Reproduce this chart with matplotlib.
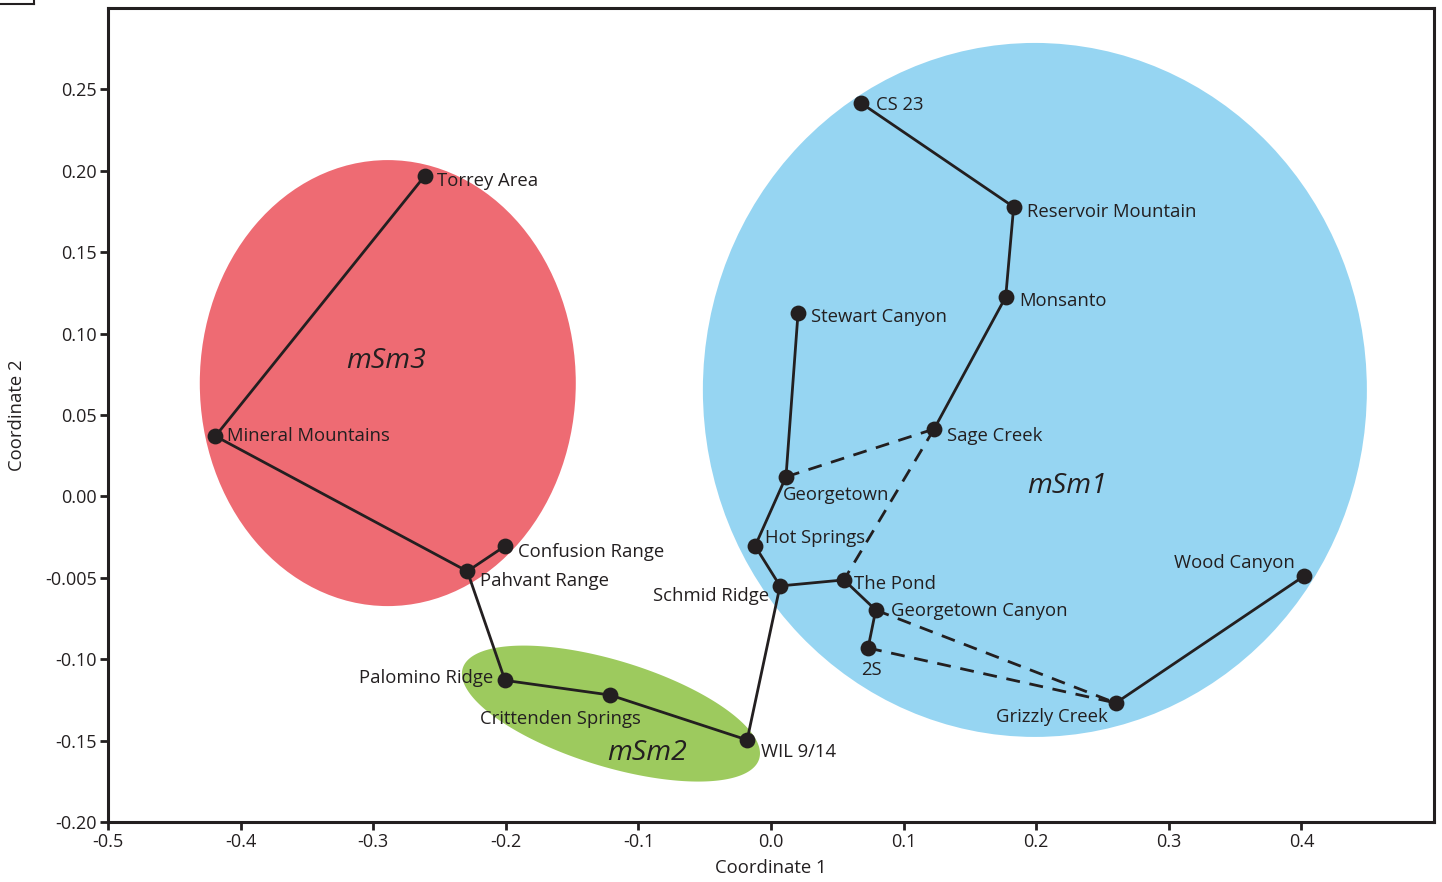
import numpy as np
import matplotlib
matplotlib.use("Agg")
import matplotlib.pyplot as plt
from matplotlib.patches import Ellipse
from matplotlib.lines import Line2D

plt.rcParams['font.family'] = ['Open Sans', 'DejaVu Sans']

# ---- data ----
sites = ["Torrey Area", "Mineral Mountains", "Pahvant Range", "Confusion Range",
         "Palomino Ridge", "Crittenden Springs", "WIL 9/14", "Schmid Ridge",
         "Hot Springs", "Georgetown", "Stewart Canyon", "Sage Creek", "Monsanto",
         "Reservoir Mountain", "CS 23", "The Pond", "Georgetown Canyon", "2S",
         "Grizzly Creek", "Wood Canyon"]
coord1 = [-0.261, -0.419, -0.229, -0.2006, -0.2006, -0.1214, -0.018, 0.0068,
          -0.012, 0.0113, 0.0204, 0.123, 0.177, 0.183, 0.0679, 0.055, 0.079,
          0.0732, 0.260, 0.402]
coord2 = [0.197, 0.037, -0.046, -0.0305, -0.113, -0.122, -0.1496, -0.055,
          -0.0305, 0.012, 0.1127, 0.0414, 0.1225, 0.1778, 0.2416, -0.0513,
          -0.0698, -0.0931, -0.1269, -0.0489]

solid_links = [("Torrey Area", "Mineral Mountains"), ("Mineral Mountains", "Pahvant Range"),
               ("Pahvant Range", "Confusion Range"), ("Pahvant Range", "Palomino Ridge"),
               ("Palomino Ridge", "Crittenden Springs"), ("Crittenden Springs", "WIL 9/14"),
               ("WIL 9/14", "Schmid Ridge"), ("Schmid Ridge", "Hot Springs"),
               ("Hot Springs", "Georgetown"), ("Georgetown", "Stewart Canyon"),
               ("Schmid Ridge", "The Pond"), ("The Pond", "Georgetown Canyon"),
               ("Georgetown Canyon", "2S"), ("Grizzly Creek", "Wood Canyon"),
               ("Sage Creek", "Monsanto"), ("Monsanto", "Reservoir Mountain"),
               ("Reservoir Mountain", "CS 23")]
dashed_links = [("Georgetown", "Sage Creek"), ("Sage Creek", "The Pond"),
                ("Georgetown Canyon", "Grizzly Creek"), ("2S", "Grizzly Creek")]

cluster_names = ["mSm3", "mSm1", "mSm2"]
cluster_centers_x = [-0.289, 0.199, -0.1207]
cluster_centers_y = [0.0696, 0.0654, -0.1334]

x_ticks = [-0.5, -0.4, -0.3, -0.2, -0.1, 0.0, 0.1, 0.2, 0.3, 0.4]
x_tick_labels = ["-0.5", "-0.4", "-0.3", "-0.2", "-0.1", "0.0", "0.1", "0.2", "0.3", "0.4"]
y_ticks = [-0.20, -0.15, -0.10, -0.05, 0.00, 0.05, 0.10, 0.15, 0.20, 0.25]
y_tick_labels = ["-0.20", "-0.15", "-0.10", "-0.005", "0.00", "0.05", "0.10", "0.15", "0.20", "0.25"]

# ---- styling / layout (label offsets in pixels) ----
label_style = {
    "Torrey Area": (12, -5, "left", "center"),
    "Mineral Mountains": (12, 0, "left", "center"),
    "Pahvant Range": (13, -10, "left", "center"),
    "Confusion Range": (13, -6, "left", "center"),
    "Palomino Ridge": (-12, 2, "right", "center"),
    "Crittenden Springs": (-130, -24, "left", "center"),
    "WIL 9/14": (14, -12, "left", "center"),
    "Schmid Ridge": (-11, -10, "right", "center"),
    "Hot Springs": (10, 8, "left", "center"),
    "Georgetown": (-3, -18, "left", "center"),
    "Stewart Canyon": (13, -4, "left", "center"),
    "Sage Creek": (13, -7, "left", "center"),
    "Monsanto": (14, -4, "left", "center"),
    "Reservoir Mountain": (13, -5, "left", "center"),
    "CS 23": (15, -2, "left", "center"),
    "The Pond": (10, -4, "left", "center"),
    "Georgetown Canyon": (15, -1, "left", "center"),
    "2S": (3, -22, "center", "center"),
    "Grizzly Creek": (-8, -14, "right", "center"),
    "Wood Canyon": (-9, 13, "right", "center"),
}

W, H = 1442, 882
fig = plt.figure(figsize=(W / 100, H / 100), dpi=100)
ax = fig.add_axes([108 / W, 1 - 822 / H, (1434 - 108) / W, (822 - 8) / H])
ax.set_xlim(-0.5, 0.5)
ax.set_ylim(-0.2, 0.30)

px_x = 1326.0  # pixels per data unit in x
px_y = 1628.0  # pixels per data unit in y

red = "#EE6B73"
blue = "#96D5F2"
green = "#9DCA5E"
ink = "#231F20"

# red cluster
ax.add_patch(Ellipse((cluster_centers_x[0], cluster_centers_y[0]), 376 / px_x, 446 / px_y,
                     facecolor=red, edgecolor="none", zorder=1))
# blue cluster
ax.add_patch(Ellipse((cluster_centers_x[1], cluster_centers_y[1]), 664 / px_x, 694 / px_y,
                     facecolor=blue, edgecolor="none", zorder=1))
# green cluster (rotated in screen space)
t = np.linspace(0, 2 * np.pi, 400)
a_px, b_px, th = 155.0, 53.0, np.deg2rad(-17)
dx = a_px * np.cos(t) * np.cos(th) - b_px * np.sin(t) * np.sin(th)
dy = a_px * np.cos(t) * np.sin(th) + b_px * np.sin(t) * np.cos(th)
ax.fill(cluster_centers_x[2] + dx / px_x, cluster_centers_y[2] + dy / px_y,
        facecolor=green, edgecolor="none", zorder=1)

pos = {s: (x, y) for s, x, y in zip(sites, coord1, coord2)}

for a, b in solid_links:
    ax.plot([pos[a][0], pos[b][0]], [pos[a][1], pos[b][1]], color=ink, lw=2.0,
            solid_capstyle="butt", zorder=2)
for a, b in dashed_links:
    ax.plot([pos[a][0], pos[b][0]], [pos[a][1], pos[b][1]], color=ink, lw=2.0,
            dashes=(5, 3.5), zorder=2)

ax.scatter(coord1, coord2, s=130, color=ink, zorder=3, linewidths=0)

for s in sites:
    dxp, dyp, ha, va = label_style[s]
    ax.annotate(s, pos[s], xytext=(dxp, dyp), textcoords="offset pixels",
                ha=ha, va=va, fontsize=13.3, color=ink, zorder=4)

cluster_label_offsets = [(-2, 22), (32, -96), (36, -39)]
for name, cx, cy, (ox, oy) in zip(cluster_names, cluster_centers_x, cluster_centers_y,
                                   cluster_label_offsets):
    ax.annotate(name, (cx, cy), xytext=(ox, oy), textcoords="offset pixels",
                ha="center", va="center", fontsize=20.5, style="italic", color=ink, zorder=4)

ax.set_xticks(x_ticks)
ax.set_xticklabels(x_tick_labels)
ax.set_yticks(y_ticks)
ax.set_yticklabels(y_tick_labels)
ax.tick_params(direction="out", length=6, width=2, colors=ink, labelsize=13, pad=2)
for sp in ax.spines.values():
    sp.set_linewidth(2.2)
    sp.set_color(ink)

ax.set_xlabel("Coordinate 1", fontsize=13.3, color=ink, labelpad=6)
ax.set_ylabel("Coordinate 2", fontsize=13.3, color=ink, labelpad=14)

# small frame fragment in the top-left corner
fig.add_artist(Line2D([0, 34 / W], [1 - 4 / H, 1 - 4 / H], transform=fig.transFigure,
                      color=ink, lw=1.5))
fig.add_artist(Line2D([34 / W, 34 / W], [1, 1 - 4 / H], transform=fig.transFigure,
                      color=ink, lw=1.5))

fig.savefig("out.png", dpi=100)
